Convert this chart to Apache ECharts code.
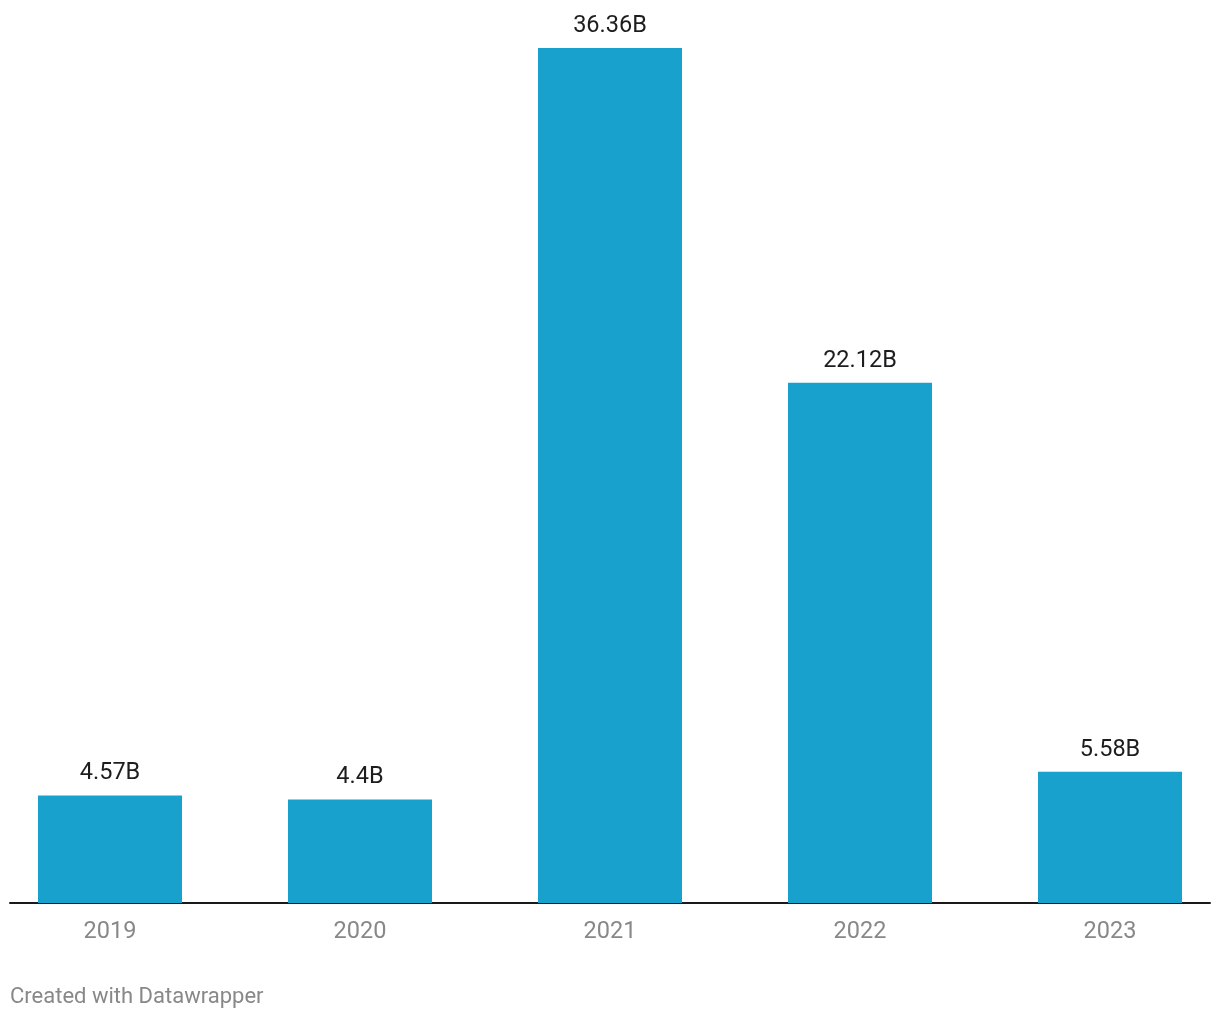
<!DOCTYPE html>
<html>
<head>
<meta charset="utf-8">
<script src="https://cdn.jsdelivr.net/npm/echarts@6/dist/echarts.min.js"></script>
<style>
html,body{margin:0;padding:0;background:#fff;}
#chart{width:1220px;height:1020px;}
</style>
</head>
<body>
<div id="chart"></div>
<script>
const categories = ['2019', '2020', '2021', '2022', '2023'];
const values = [4.57, 4.4, 36.36, 22.12, 5.58];
const footer = 'Created with Datawrapper';

const chart = echarts.init(document.getElementById('chart'), null, {renderer: 'canvas'});
chart.setOption({
  animation: false,
  backgroundColor: '#ffffff',
  textStyle: {fontFamily: 'Roboto'},
  grid: [
    {left: -15, width: 1250, top: 48, bottom: 117, containLabel: false, outerBoundsMode: 'none'},
    {left: 10, right: 10, top: 48, bottom: 117, containLabel: false, outerBoundsMode: 'none'}
  ],
  xAxis: [
    {
      type: 'category', gridIndex: 0, data: categories,
      axisLine: {show: false}, axisTick: {show: false},
      axisLabel: {color: '#888888', fontSize: 23.5, margin: 17, fontFamily: 'Roboto'}
    },
    {
      type: 'category', gridIndex: 1, data: [],
      axisLine: {show: true, lineStyle: {color: '#1a1a1a', width: 2}},
      axisTick: {show: false}, axisLabel: {show: false}
    }
  ],
  yAxis: [
    {type: 'value', gridIndex: 0, min: 0, max: 'dataMax', show: false, splitLine: {show: false}},
    {type: 'value', gridIndex: 1, min: 0, max: 1, show: false, splitLine: {show: false}}
  ],
  series: [{
    type: 'bar',
    xAxisIndex: 0, yAxisIndex: 0,
    data: values,
    barWidth: 144,
    itemStyle: {color: '#18a1cd'},
    label: {
      show: true, position: 'top', distance: 10,
      color: '#1d1d1d', fontSize: 23.5, fontFamily: 'Roboto',
      formatter: p => p.value + 'B'
    }
  }],
  graphic: [{
    type: 'text', left: 10, top: 986,
    style: {text: footer, fill: '#888888', fontSize: 22, fontFamily: 'Roboto'}
  }]
});
</script>
</body>
</html>
